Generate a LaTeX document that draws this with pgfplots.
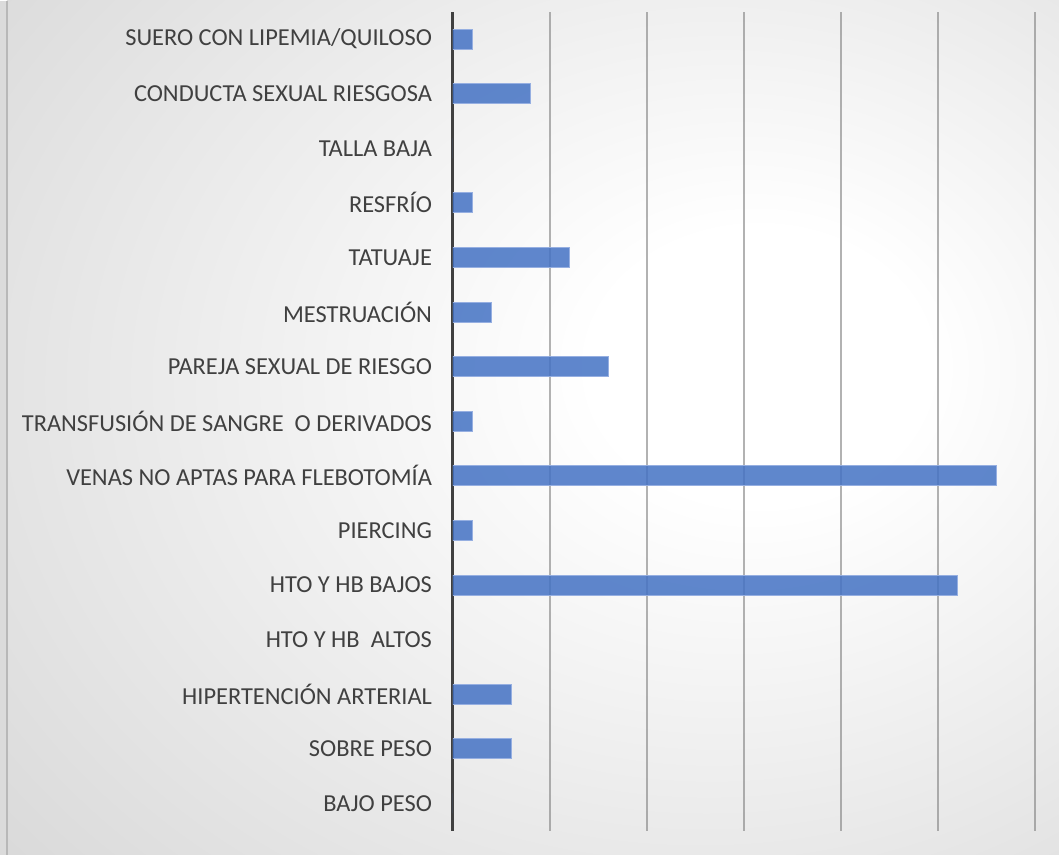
\documentclass[border=0pt]{standalone}
\usepackage{fontspec}
\setmainfont{Carlito}
\usepackage{pgfplots}
\pgfplotsset{compat=1.18}
\definecolor{barblue}{RGB}{68,114,196}
\definecolor{txt}{RGB}{64,64,64}
\pgfdeclareradialshading{bgshade}{\pgfpoint{12bp}{4bp}}{color(0bp)=(white); color(8bp)=(white); color(60bp)=(black!23); color(80bp)=(black!28)}
\begin{document}
\begin{tikzpicture}
\fill[black!14] (-226.5pt,-12pt) rectangle (303pt,415pt);
\shade[shading=bgshade] (-223pt,-12pt) rectangle (303pt,415pt);
\draw[black!28, line width=0.8pt] (-223pt,-12pt) -- (-223pt,415pt);
\begin{axis}[
  at={(0pt,0pt)}, anchor=south west,
  width=291pt, height=409.5pt, scale only axis,
  xbar, bar width=10pt,
  xmin=0, xmax=30, ymin=-0.5, ymax=14.5,
  xtick={5,10,15,20,25,30}, xticklabels={},
  xmajorgrids, grid style={black!50, line width=0.6pt, opacity=0.6},
  major tick length=0pt,
  ytick={0,...,14},
  yticklabels={BAJO PESO, SOBRE PESO, HIPERTENCIÓN ARTERIAL, HTO Y HB\ \ ALTOS, HTO Y HB BAJOS, PIERCING, VENAS NO APTAS PARA FLEBOTOMÍA, TRANSFUSIÓN DE SANGRE\ \ O DERIVADOS, PAREJA SEXUAL DE RIESGO, MESTRUACIÓN, TATUAJE, RESFRÍO, TALLA BAJA, CONDUCTA SEXUAL RIESGOSA, SUERO CON LIPEMIA/QUILOSO},
  yticklabel style={font=\fontsize{12.2}{14}\selectfont, text=txt, anchor=east, xshift=-7pt},
  axis x line*=bottom,
  x axis line style={draw=none},
  axis y line*=left,
  y axis line style={txt, line width=1.5pt, -},
]
\addplot[fill=barblue, fill opacity=0.85, draw={rgb,255:red,150;green,175;blue,225}, line width=0.5pt]
coordinates {(0,0) (3,1) (3,2) (0,3) (26,4) (1,5) (28,6) (1,7) (8,8) (2,9) (6,10) (1,11) (0,12) (4,13) (1,14)};
\end{axis}
\end{tikzpicture}
\end{document}
